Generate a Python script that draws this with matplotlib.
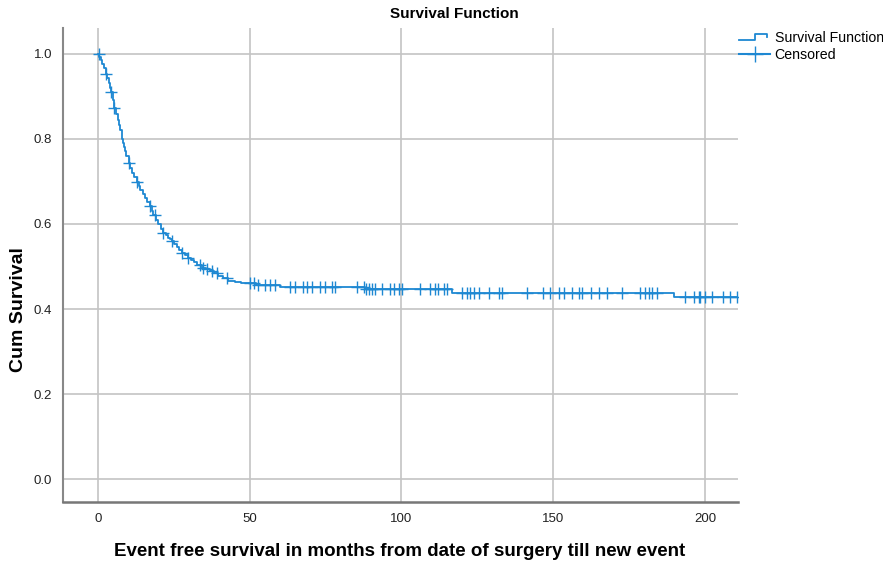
import numpy as np
import matplotlib.pyplot as plt
from matplotlib.legend_handler import HandlerBase
from matplotlib.lines import Line2D

plt.rcParams['font.family'] = ['Liberation Sans', 'DejaVu Sans']

# event times (months) and survival after each step
event_t = [0, 0.5, 1, 1.5, 2, 2.6, 3, 3.5, 4, 4.35, 5, 5.45, 6, 6.5, 7, 7.3, 7.9,
           8.3, 8.7, 9.0, 9.4, 10.1, 10.6, 11.2, 12.0, 12.8, 13.4, 14, 14.8, 15.5,
           16.3, 17.2, 17.7, 18.2, 19.0, 19.9, 20.8, 21.6, 22.3, 23, 23.7, 24.4,
           25.2, 26, 26.8, 27.7, 28.7, 29.8, 30.6, 31.5, 32.8, 34.2, 35.5, 37,
           38.4, 39.7, 41.3, 43, 45, 47, 52, 60, 88, 116.6, 189.7]
event_s = [1.0, 0.993, 0.985, 0.975, 0.965, 0.953, 0.942, 0.93, 0.92, 0.91, 0.89,
           0.871, 0.858, 0.845, 0.832, 0.82, 0.80, 0.79, 0.78, 0.77, 0.76, 0.743,
           0.732, 0.72, 0.709, 0.698, 0.689, 0.68, 0.67, 0.66, 0.651, 0.641, 0.631,
           0.62, 0.61, 0.60, 0.589, 0.579, 0.573, 0.568, 0.564, 0.56, 0.552, 0.545,
           0.538, 0.532, 0.526, 0.52, 0.515, 0.51, 0.503, 0.497, 0.494, 0.49,
           0.484, 0.478, 0.472, 0.466, 0.464, 0.462, 0.457, 0.452, 0.446, 0.437,
           0.429]

# censored times
censor_t = [0.3, 2.6, 4.35, 5.45, 10.1, 12.8, 17.2, 18.9, 21.6, 24.4, 27.7, 29.8,
            33.5, 34.5, 36, 37.5, 39.2, 42.5,
            50.2, 51.3, 52.9, 55.1, 56.8, 58.4, 63.3, 65, 67.7, 68.9, 70.5, 73.2,
            74.9, 77.1, 78.2, 85.3, 87.5, 88.4, 89.2, 90.3, 91.4, 93.6, 96.3, 97.4,
            99.1, 100.2, 106.2, 109.5, 111.2, 112.2, 113.9, 115.0, 119.9, 121.6,
            122.7, 123.8, 125.4, 128.7, 132.0, 133.1, 141.4, 146.8, 149.0, 151.8,
            153.4, 156.2, 158.4, 159.5, 162.3, 165.0, 167.7, 172.7, 178.7, 180.4,
            181.5, 182.6, 184.2, 193.5, 196.3, 197.9, 198.5, 200.1, 202.3, 206.1,
            208.4, 210.5]

xticks = [0, 50, 100, 150, 200]
yticks = [0.0, 0.2, 0.4, 0.6, 0.8, 1.0]

blue = '#1e88d2'

event_t = np.array(event_t)
event_s = np.array(event_s)
censor_t = np.array(censor_t)
idx = np.searchsorted(event_t, censor_t, side='right') - 1
censor_s = event_s[idx]

fig = plt.figure(figsize=(8.83, 5.65), dpi=100)
ax = fig.add_axes([0.0717, 0.1115, 0.7645, 0.839])

ax.grid(True, color='#c4c4c4', linewidth=1.2)
ax.set_axisbelow(True)

line_t = np.append(event_t, censor_t.max())
line_s = np.append(event_s, event_s[-1])
ax.step(line_t, line_s, where='post', color=blue, linewidth=1.3)
ax.plot(censor_t, censor_s, linestyle='none', marker='+', color=blue,
        markersize=8, markeredgewidth=1.0)

ax.set_xlim(-11.4, 211)
ax.set_ylim(-0.053, 1.06)
ax.set_xticks(xticks)
ax.set_yticks(yticks)
ax.set_yticklabels([f'{v:.1f}' for v in yticks])
ax.tick_params(length=0, labelsize=9.5, labelcolor='#222222', pad=8)

for s in ['top', 'right']:
    ax.spines[s].set_visible(False)
ax.spines['left'].set_color('#888888')
ax.spines['bottom'].set_color('#777777')
ax.spines['left'].set_linewidth(1.5)
ax.spines['bottom'].set_linewidth(1.8)

fig.text(0.515, 0.975, 'Survival Function', ha='center', va='center',
         fontsize=11, fontweight='bold')
fig.text(0.453, 0.024, 'Event free survival in months from date of surgery till new event',
         ha='center', va='center', fontsize=13.5, fontweight='bold')
fig.text(0.021, 0.452, 'Cum Survival', ha='center', va='center', rotation=90,
         fontsize=14, fontweight='bold')


class StepHandler(HandlerBase):
    def create_artists(self, legend, orig_handle, xdescent, ydescent,
                       width, height, fontsize, trans):
        xs = np.array([0, 0.5, 0.5, 0.88, 0.88]) * width - xdescent
        ys = np.array([0.2, 0.2, 0.85, 0.85, 0.5]) * height - ydescent
        ln = Line2D(xs, ys, color=blue, linewidth=1.3, transform=trans)
        return [ln]


h1 = Line2D([], [], color=blue)
h2 = Line2D([], [], color=blue, marker='+', markersize=11, markeredgewidth=1.0)
fig.legend([h1, h2], ['Survival Function', 'Censored'],
           handler_map={h1: StepHandler()},
           loc='upper left', bbox_to_anchor=(0.826, 0.962), frameon=False,
           fontsize=10.2, handlelength=2.2, handletextpad=0.3,
           labelspacing=0.15, borderpad=0.2)

fig.savefig('out.png', dpi=100)
